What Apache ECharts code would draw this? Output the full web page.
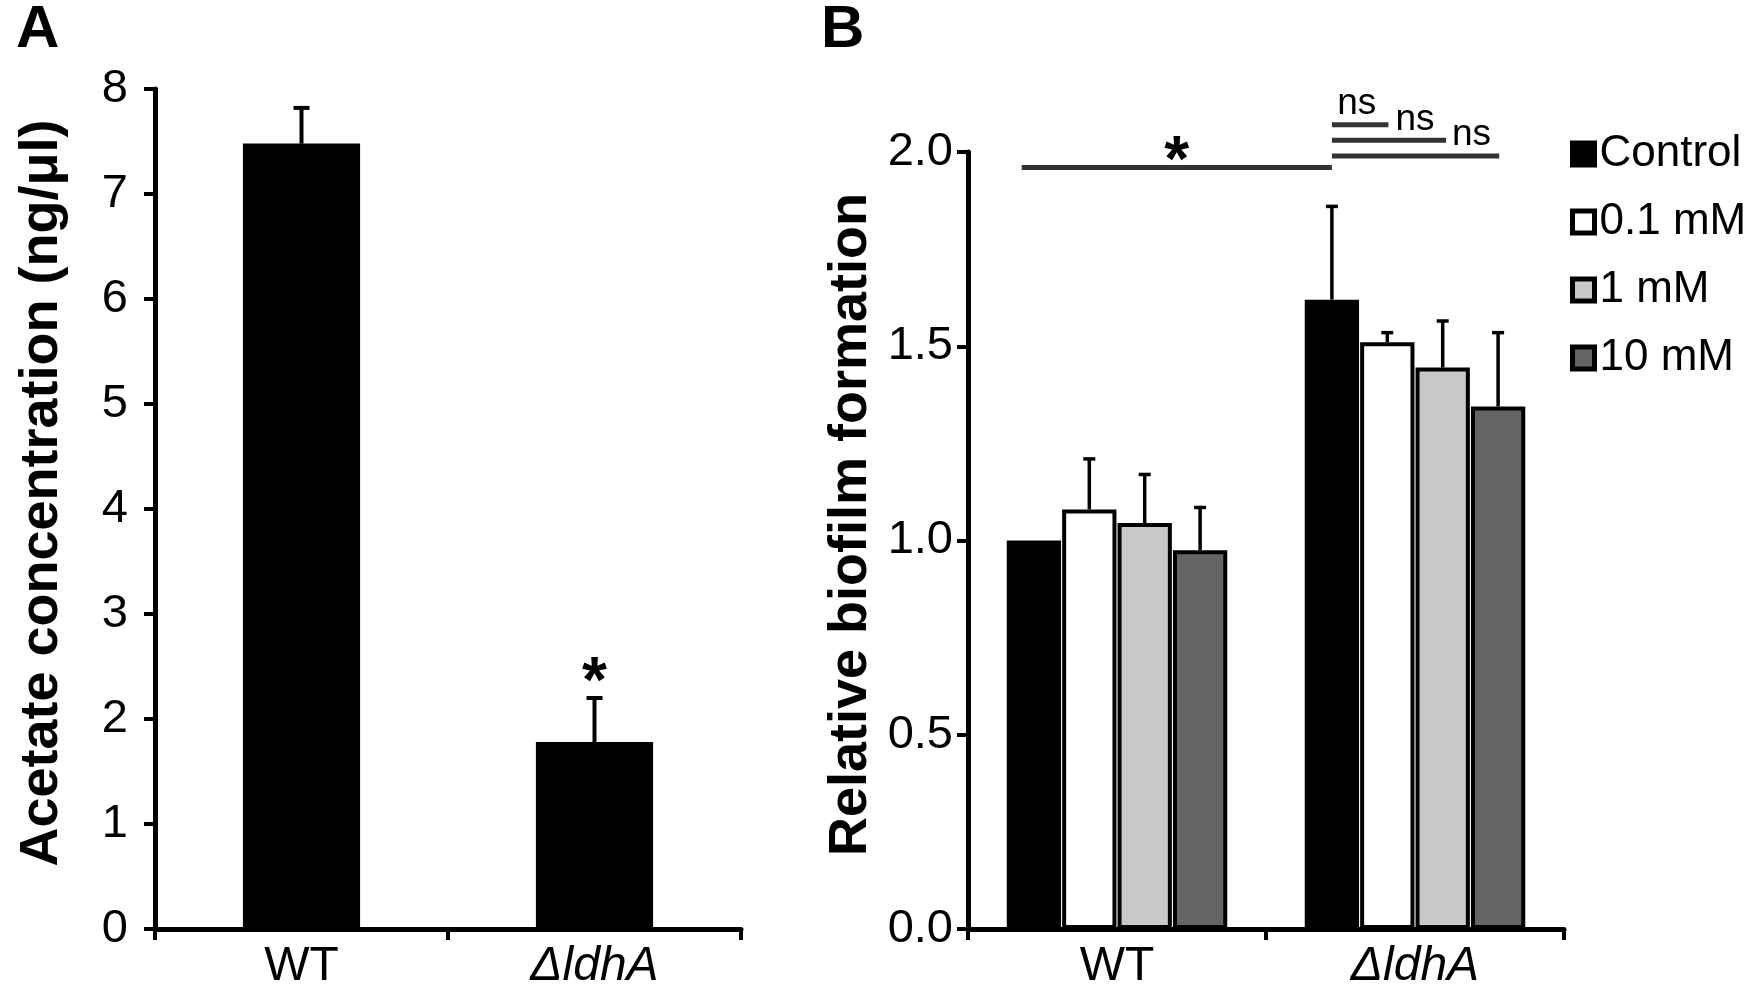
<!DOCTYPE html>
<html>
<head>
<meta charset="utf-8">
<title>Acetate and biofilm</title>
<script src="https://cdn.jsdelivr.net/npm/echarts@6/dist/echarts.min.js"></script>
<style>
  html, body { margin: 0; padding: 0; background: #fff; }
  #main { width: 1755px; height: 1000px; }
</style>
</head>
<body>
<div id="main"></div>
<script>
// panel A
var strainsA = ['WT', 'ΔldhA'];
var acetate = [7.48, 1.78];
var acetateErr = [0.34, 0.42];
var starsA = ['', '*'];
var ticksA = [0, 1, 2, 3, 4, 5, 6, 7, 8];

// panel B
var strainsB = ['WT', 'ΔldhA'];
var treatments = ['Control', '0.1 mM', '1 mM', '10 mM'];
var biofilm = [
  [1.00, 1.62],
  [1.08, 1.51],
  [1.045, 1.445],
  [0.975, 1.345]
];
var biofilmErr = [
  [0, 0.24],
  [0.13, 0.025],
  [0.125, 0.12],
  [0.11, 0.19]
];
var ticksB = ['0.0', '0.5', '1.0', '1.5', '2.0'];
// significance bars: [strain, bar slot] from -> to, at height y
var sigFrom = [[0, -0.22], [1, 0], [1, 0], [1, 0]];
var sigTo = [[1, 0], [1, 1.02], [1, 2.06], [1, 3.02]];
var sigY = [1.96, 2.07, 2.03, 1.99];
var sigText = ['*', 'ns', 'ns', 'ns'];
var sigTextAt = [[0.5, -0.11], [1, 0.45], [1, 1.5], [1, 2.52]];

var FONT = '"Liberation Sans", Arial, Helvetica, sans-serif';
var colorsB = ['#000000', '#ffffff', '#c8c8c8', '#646464'];
var CAT_GAP = 0.26, BAR_GAP = 0.02;

var myChart = echarts.init(document.getElementById('main'));

function slotX(api, cat, slot) {
  var band = api.size([1, 0])[0];
  var n = treatments.length;
  var w = band * (1 - CAT_GAP) / (n + (n - 1) * BAR_GAP);
  var total = n * w + (n - 1) * w * BAR_GAP;
  return api.coord([cat, 0])[0] - total / 2 + slot * w * (1 + BAR_GAP) + w / 2;
}

function catLabel(v) {
  return v.charAt(0) === 'Δ' ? '{i|' + v + '}' : v;
}

var xLabel = {
  color: '#000', fontSize: 48, fontFamily: FONT, margin: 14,
  formatter: catLabel,
  rich: { i: { fontSize: 48, fontFamily: FONT, fontStyle: 'italic', color: '#000' } }
};
var axisLine = { show: true, lineStyle: { color: '#000', width: 5 } };
var axisTick = { show: true, length: 11, lineStyle: { color: '#000', width: 4 } };
var nameStyle = { color: '#000', fontSize: 54, fontWeight: 'bold', fontFamily: FONT, padding: [0, 0, 0, 32] };

var series = [];

series.push({
  type: 'bar', xAxisIndex: 0, yAxisIndex: 0,
  data: acetate, barWidth: '40%',
  itemStyle: { color: '#000' }, silent: true
});

series.push({
  type: 'custom', xAxisIndex: 0, yAxisIndex: 0, z: 5, silent: true,
  data: acetate.map(function (v, i) { return [i, v, v + acetateErr[i]]; }),
  encode: { x: 0, y: [1, 2] },
  renderItem: function (params, api) {
    var i = api.value(0);
    var p0 = api.coord([i, api.value(1)]);
    var p1 = api.coord([i, api.value(2)]);
    var st = { stroke: '#000', lineWidth: 4 };
    var kids = [
      { type: 'line', shape: { x1: p0[0], y1: p0[1], x2: p1[0], y2: p1[1] }, style: st },
      { type: 'line', shape: { x1: p1[0] - 8, y1: p1[1], x2: p1[0] + 8, y2: p1[1] }, style: st }
    ];
    if (starsA[i]) {
      kids.push({ type: 'text', style: {
        text: starsA[i], x: p1[0], y: p1[1] - 14, align: 'center', verticalAlign: 'middle',
        fill: '#000', fontSize: 64, fontWeight: 'bold', fontFamily: FONT } });
    }
    return { type: 'group', children: kids };
  }
});

treatments.forEach(function (t, k) {
  series.push({
    type: 'bar', name: t, xAxisIndex: 1, yAxisIndex: 1,
    data: biofilm[k], barCategoryGap: '26%', barGap: '2%',
    itemStyle: { color: colorsB[k], borderColor: '#000', borderWidth: 4 }, silent: true
  });
});

var errRows = [];
treatments.forEach(function (t, k) {
  strainsB.forEach(function (s, c) {
    if (biofilmErr[k][c] > 0) errRows.push([c, k, biofilm[k][c], biofilm[k][c] + biofilmErr[k][c]]);
  });
});

series.push({
  type: 'custom', xAxisIndex: 1, yAxisIndex: 1, z: 5, silent: true,
  data: errRows,
  encode: { x: 0, y: [2, 3] },
  renderItem: function (params, api) {
    var c = api.value(0), k = api.value(1);
    var x = slotX(api, c, k);
    var y0 = api.coord([c, api.value(2)])[1];
    var y1 = api.coord([c, api.value(3)])[1];
    var st = { stroke: '#000', lineWidth: 3.5 };
    return { type: 'group', children: [
      { type: 'line', shape: { x1: x, y1: y0, x2: x, y2: y1 }, style: st },
      { type: 'line', shape: { x1: x - 6, y1: y1, x2: x + 6, y2: y1 }, style: st }
    ] };
  }
});

series.push({
  type: 'custom', xAxisIndex: 1, yAxisIndex: 1, z: 6, silent: true,
  data: sigY.map(function (y, i) { return [sigFrom[i][0], y]; }),
  encode: { x: 0, y: 1 },
  renderItem: function (params, api) {
    var i = params.dataIndex;
    var y = api.coord([0, sigY[i]])[1];
    var xa = slotX(api, sigFrom[i][0], sigFrom[i][1]);
    var xb = slotX(api, sigTo[i][0], sigTo[i][1]);
    var tx = sigTextAt[i][0] === 0.5 ? (xa + xb) / 2 : slotX(api, sigTextAt[i][0], sigTextAt[i][1]);
    var isStar = sigText[i] === '*';
    return { type: 'group', children: [
      { type: 'line', shape: { x1: xa, y1: y, x2: xb, y2: y }, style: { stroke: '#333', lineWidth: 5 } },
      { type: 'text', style: {
        text: sigText[i], x: tx, y: isStar ? y - 4 : y - 21,
        align: 'center', verticalAlign: 'middle', fill: '#000',
        fontSize: isStar ? 64 : 37, fontWeight: isStar ? 'bold' : 'normal', fontFamily: FONT } }
    ] };
  }
});

var option = {
  backgroundColor: '#fff',
  animation: false,
  textStyle: { fontFamily: FONT },
  grid: [
    { left: 155, right: 1014, top: 89, bottom: 71 },
    { left: 968, right: 191, top: 152, bottom: 71 }
  ],
  legend: {
    data: treatments, orient: 'vertical', left: 1565, top: 127,
    icon: 'rect', itemWidth: 22, itemHeight: 22, itemGap: 24,
    selectedMode: false,
    itemStyle: { borderColor: '#000', borderWidth: 5 },
    textStyle: { color: '#000', fontSize: 44, lineHeight: 44, fontFamily: FONT }
  },
  xAxis: [
    { type: 'category', gridIndex: 0, data: strainsA, axisLine: axisLine, axisTick: axisTick, axisLabel: xLabel },
    { type: 'category', gridIndex: 1, data: strainsB, axisLine: axisLine, axisTick: axisTick, axisLabel: xLabel }
  ],
  yAxis: [
    {
      type: 'value', gridIndex: 0, min: ticksA[0], max: ticksA[ticksA.length - 1], interval: 1,
      axisLine: axisLine, axisTick: axisTick, splitLine: { show: false },
      axisLabel: { color: '#000', fontSize: 47, fontFamily: FONT, margin: 27 },
      name: 'Acetate concentration (ng/μl)', nameLocation: 'middle', nameGap: 86,
      nameTextStyle: nameStyle
    },
    {
      type: 'value', gridIndex: 1, min: 0, max: 2, interval: 0.5,
      axisLine: axisLine, axisTick: axisTick, splitLine: { show: false },
      axisLabel: { color: '#000', fontSize: 47, fontFamily: FONT, margin: 15,
        formatter: function (v) { return ticksB[Math.round(v / 0.5)]; } },
      name: 'Relative biofilm formation', nameLocation: 'middle', nameGap: 90,
      nameTextStyle: nameStyle
    }
  ],
  graphic: [
    { type: 'text', left: 16, top: 0, style: { text: 'A', fill: '#000', fontSize: 60, fontWeight: 'bold', fontFamily: FONT } },
    { type: 'text', left: 821, top: 0, style: { text: 'B', fill: '#000', fontSize: 60, fontWeight: 'bold', fontFamily: FONT } }
  ],
  series: series
};

myChart.setOption(option);
</script>
</body>
</html>
